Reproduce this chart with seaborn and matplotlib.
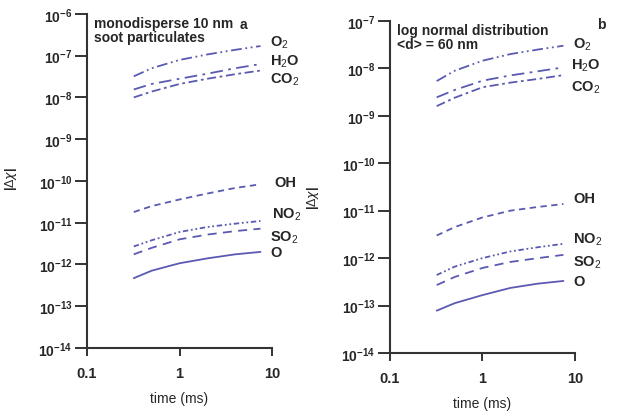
import numpy as np
import pandas as pd
import matplotlib
matplotlib.use("Agg")
import matplotlib.pyplot as plt
import matplotlib.ticker as mticker
import seaborn as sns

# ── data ─────────────────────────────────────────────────────────────────────
time_ms = [0.32, 0.5, 1.0, 2.0, 4.0, 7.5]
species = ["O2", "H2O", "CO2", "OH", "NO2", "SO2", "O"]

# panel a: monodisperse 10 nm soot
a_O2 = [3.2e-8, 5.0e-8, 7.9e-8, 1.07e-7, 1.38e-7, 1.7e-7]
a_H2O = [1.55e-8, 2.1e-8, 2.8e-8, 3.7e-8, 5.0e-8, 6.3e-8]
a_CO2 = [1.0e-8, 1.38e-8, 2.1e-8, 2.8e-8, 3.6e-8, 4.4e-8]
a_OH = [1.8e-11, 2.5e-11, 3.6e-11, 5.0e-11, 6.8e-11, 8.3e-11]
a_NO2 = [2.7e-12, 3.8e-12, 6.0e-12, 7.9e-12, 9.5e-12, 1.1e-11]
a_SO2 = [1.75e-12, 2.5e-12, 4.0e-12, 5.2e-12, 6.3e-12, 7.2e-12]
a_O = [4.7e-13, 7.1e-13, 1.07e-12, 1.4e-12, 1.75e-12, 2.0e-12]

# panel b: log normal distribution, <d> = 60 nm
b_O2 = [5.4e-9, 8.9e-9, 1.45e-8, 2.0e-8, 2.5e-8, 3.0e-8]
b_H2O = [2.45e-9, 3.5e-9, 5.5e-9, 7.1e-9, 8.7e-9, 1.05e-8]
b_CO2 = [1.6e-9, 2.4e-9, 4.0e-9, 5.0e-9, 6.0e-9, 7.2e-9]
b_OH = [3.0e-12, 4.5e-12, 7.2e-12, 1.0e-11, 1.2e-11, 1.38e-11]
b_NO2 = [4.4e-13, 6.6e-13, 1.0e-12, 1.38e-12, 1.7e-12, 2.0e-12]
b_SO2 = [2.7e-13, 4.0e-13, 6.2e-13, 8.3e-13, 1.0e-12, 1.17e-12]
b_O = [7.8e-14, 1.12e-13, 1.66e-13, 2.35e-13, 2.9e-13, 3.3e-13]

labels_tex = {"O2": r"O$_2$", "H2O": r"H$_2$O", "CO2": r"CO$_2$", "OH": "OH",
              "NO2": r"NO$_2$", "SO2": r"SO$_2$", "O": "O"}

LINE_COLOR = "#5a5ab2"
styles = {
    "O2": (0, (6, 2, 1, 2, 1, 2)),
    "H2O": (0, (7, 3, 1.5, 3)),
    "CO2": (0, (5, 2, 1.5, 2)),
    "OH": (0, (3.5, 2.5)),
    "NO2": (0, (3, 1.5, 1, 1.5, 1, 1.5)),
    "SO2": (0, (5, 3.5)),
    "O": "-",
}


def build_frame(series):
    rows = []
    for sp, vals in zip(species, series):
        for t, v in zip(time_ms, vals):
            rows.append({"time": t, "dchi": v, "species": sp})
    return pd.DataFrame(rows)


df_a = build_frame([a_O2, a_H2O, a_CO2, a_OH, a_NO2, a_SO2, a_O])
df_b = build_frame([b_O2, b_H2O, b_CO2, b_OH, b_NO2, b_SO2, b_O])

sns.set_theme(style="ticks")
plt.rcParams["font.family"] = ["Liberation Sans", "DejaVu Sans"]
plt.rcParams["mathtext.fontset"] = "custom"
plt.rcParams["mathtext.rm"] = "Liberation Sans"
plt.rcParams["mathtext.bf"] = "Liberation Sans:bold"

fig = plt.figure(figsize=(6.18, 4.14), dpi=100)
ax_a = fig.add_axes([0.1408, 0.157, 0.2994, 0.807])
ax_b = fig.add_axes([0.631, 0.145, 0.2994, 0.802])

# label pixel offsets (dx, dy) relative to each line end
offs_a = {"O2": (10, 4), "H2O": (10, 3), "CO2": (10, -8), "OH": (14, 2),
          "NO2": (12, 7), "SO2": (10, -8), "O": (10, 0)}
offs_b = {"O2": (10, 2), "H2O": (8, 3), "CO2": (8, -12), "OH": (10, 6),
          "NO2": (10, 5), "SO2": (10, -7), "O": (10, 0)}


def draw_panel(ax, df, ylim, offs, note, letter, letter_xy, ylab_y):
    for sp in species:
        sub = df[df["species"] == sp]
        sns.lineplot(data=sub, x="time", y="dchi", ax=ax, color=LINE_COLOR,
                     linestyle=styles[sp], linewidth=1.3, legend=False)
        last = sub.iloc[-1]
        ax.annotate(labels_tex[sp], xy=(last["time"], last["dchi"]),
                    xytext=offs[sp], textcoords="offset pixels",
                    fontsize=10.5, fontweight="bold", va="center", ha="left",
                    annotation_clip=False)
    ax.set_xscale("log")
    ax.set_yscale("log")
    ax.set_xlim(0.1, 10)
    ax.set_ylim(*ylim)
    ax.xaxis.set_major_locator(mticker.FixedLocator([0.1, 1, 10]))
    ax.xaxis.set_major_formatter(mticker.FixedFormatter(["0.1", "1", "10"]))
    ax.xaxis.set_minor_locator(mticker.NullLocator())
    ax.yaxis.set_major_locator(mticker.LogLocator(base=10, numticks=20))
    ax.yaxis.set_minor_locator(mticker.NullLocator())
    for s in ["top", "right"]:
        ax.spines[s].set_visible(False)
    for s in ["left", "bottom"]:
        ax.spines[s].set_linewidth(1.5)
        ax.spines[s].set_color("#333333")
    ax.tick_params(axis="y", direction="out", length=8.5, width=1.4,
                   color="#333333", labelsize=10, pad=2)
    ax.tick_params(axis="x", direction="out", length=6, width=1.4,
                   color="#333333", labelsize=10.5, pad=7)
    for lab in ax.get_xticklabels() + ax.get_yticklabels():
        lab.set_fontweight("bold")
    ax.set_xlabel("time (ms)", fontsize=10)
    ax.set_ylabel(r"|$\Delta\chi$|", fontsize=9, fontweight="bold")
    ax.yaxis.set_label_coords(-0.37, ylab_y)
    ax.xaxis.set_label_coords(0.5, -0.13)
    ax.text(0.04, 0.995, note, transform=ax.transAxes, fontsize=10,
            fontweight="bold", va="top", ha="left", linespacing=1.05)
    ax.text(letter_xy[0], letter_xy[1], letter, transform=ax.transAxes,
            fontsize=10, fontweight="bold", va="center", ha="center")


draw_panel(ax_a, df_a, (1e-14, 1e-6), offs_a,
           "monodisperse 10 nm\nsoot particulates", "a", (0.845, 0.97), 0.51)
draw_panel(ax_b, df_b, (1e-14, 1e-7), offs_b,
           "log normal distribution\n<d> = 60 nm", "b", (1.14, 0.99), 0.47)

fig.savefig("out.png", dpi=100)
